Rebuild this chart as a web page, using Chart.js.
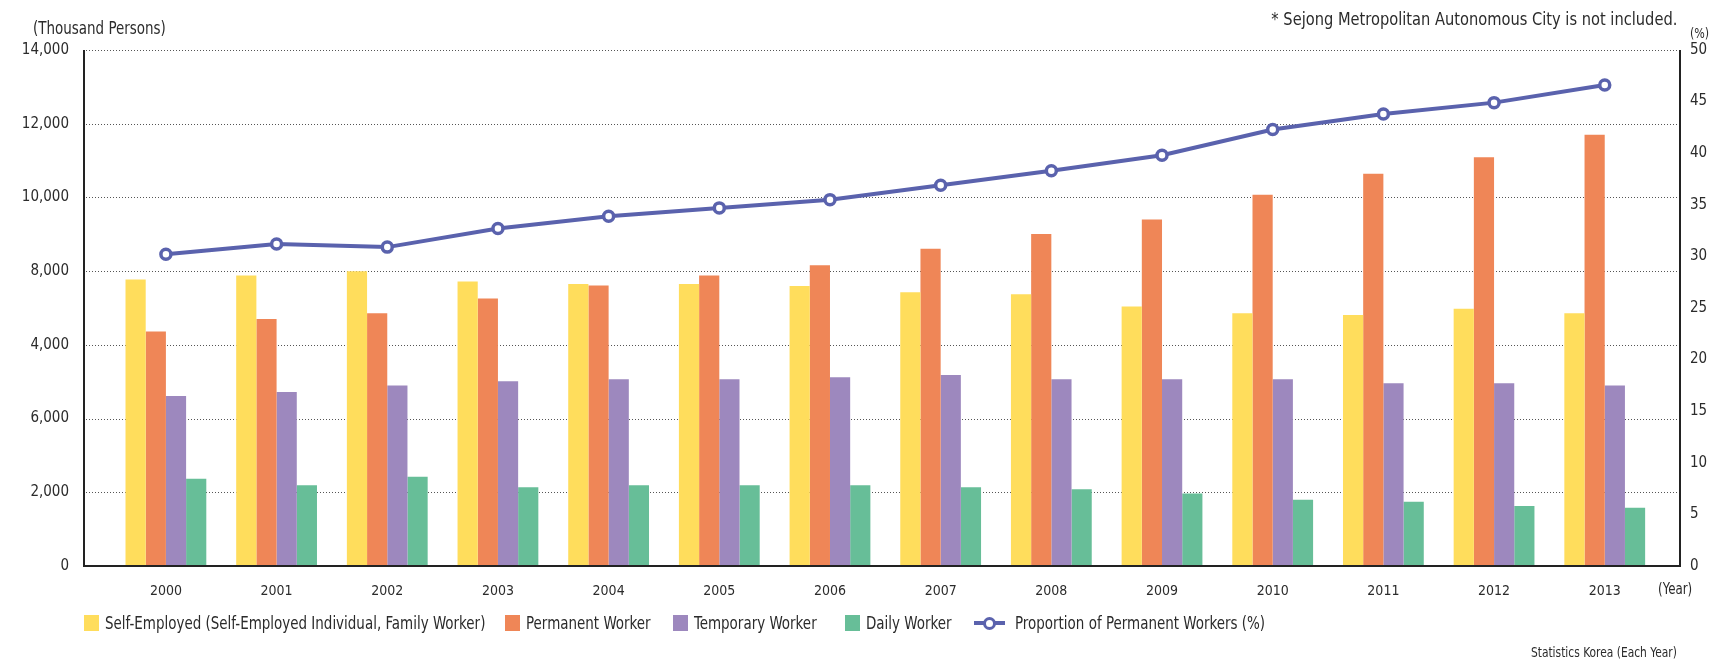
<!DOCTYPE html>
<html>
<head>
<meta charset="utf-8">
<script src="https://cdn.jsdelivr.net/npm/chart.js@4"></script>
<style>
  body { margin: 0; background: #fff; }
  .wrap {
    position: relative; width: 1711px; height: 662px; overflow: hidden;
    font-family: 'Liberation Sans Narrow', 'DejaVu Sans Condensed', 'Roboto', sans-serif;
    color: #2b2b2b;
  }
  #chart { position: absolute; left: 0; top: 0; }
  /* the labels use a narrow face, so squeeze the regular one */
  .txt { position: absolute; white-space: nowrap; line-height: 1; transform: scaleX(0.88); transform-origin: left center; }
  .txt.r { transform-origin: right center; }
  .unit-left { left: 33px; top: 20px; font-size: 17px; }
  .note { right: 34px; top: 10px; font-size: 18.5px; }
  .unit-right { left: 1690px; top: 26px; font-size: 14px; }
  .year { left: 1658px; top: 582px; font-size: 15px; }
  .source { right: 34px; top: 646px; font-size: 13.5px; }
  .legend-item { position: absolute; top: 613px; display: flex; align-items: center; font-size: 17px; white-space: nowrap; }
  .legend-item .box { width: 15px; height: 16px; margin-right: 6px; flex: none; }
  .legend-item .mark { position: relative; width: 31px; height: 16px; margin-right: 10px; flex: none; }
  .legend-item .label { display: inline-block; transform: scaleX(0.88); transform-origin: left center; }
  .mark::before { content: ''; position: absolute; left: 0; right: 0; top: 6px; height: 4px; background: #5a62ad; }
  .mark::after { content: ''; position: absolute; left: 9px; top: 2px; width: 7px; height: 7px; border: 3.5px solid #5a62ad; border-radius: 50%; background: #fff; }
</style>
</head>
<body>
<div class="wrap">
  <canvas id="chart" width="1711" height="662"></canvas>
  <div class="txt unit-left">(Thousand Persons)</div>
  <div class="txt r note">* Sejong Metropolitan Autonomous City is not included.</div>
  <div class="txt unit-right">(%)</div>
  <div class="txt year">(Year)</div>
  <div id="legend"></div>
  <div class="txt r source">Statistics Korea (Each Year)</div>
</div>
<script>
// Employment status by year (thousand persons) and share of permanent workers (%)
const years = ['2000', '2001', '2002', '2003', '2004', '2005', '2006', '2007', '2008', '2009', '2010', '2011', '2012', '2013'];
const selfEmployed = [7770, 7880, 8000, 7720, 7650, 7650, 7600, 7430, 7370, 7040, 6860, 6810, 6980, 6860];
const permanent = [6360, 6700, 6860, 7260, 7610, 7880, 8160, 8610, 9010, 9400, 10070, 10640, 11090, 11700];
const temporary = [4610, 4720, 4900, 5010, 5070, 5070, 5120, 5180, 5070, 5070, 5070, 4960, 4960, 4900];
const daily = [2370, 2190, 2420, 2140, 2190, 2190, 2190, 2140, 2080, 1970, 1800, 1740, 1630, 1580];
const permanentShare = [30.2, 31.2, 30.9, 32.7, 33.9, 34.7, 35.5, 36.9, 38.3, 39.8, 42.3, 43.8, 44.9, 46.6];

// left axis labels as printed
const leftTickLabels = ['0', '2,000', '6,000', '4,000', '8,000', '10,000', '12,000', '14,000'];

const seriesNames = ['Self-Employed (Self-Employed Individual, Family Worker)', 'Permanent Worker', 'Temporary Worker', 'Daily Worker', 'Proportion of Permanent Workers (%)'];
const colors = ['#ffdd5c', '#ef8657', '#9d88be', '#67be98', '#5a62ad'];

const FONT = "'Liberation Sans Narrow', 'DejaVu Sans Condensed', 'Roboto', sans-serif";
const toPoints = arr => arr.map((v, i) => ({ x: i, y: v }));

// dotted gridlines and solid axis frame
const frame = {
    id: 'frame',
    beforeDatasetsDraw(chart) {
        const { ctx, chartArea: a, scales: { y } } = chart;
        ctx.save();
        ctx.strokeStyle = '#555';
        ctx.lineWidth = 1;
        ctx.setLineDash([1, 2]);
        y.ticks.forEach(t => {
            if (t.value === 0) return;
            const py = Math.round(y.getPixelForValue(t.value)) + 0.5;
            ctx.beginPath();
            ctx.moveTo(a.left + 2, py);
            ctx.lineTo(a.right, py);
            ctx.stroke();
        });
        ctx.restore();
    },
    afterDatasetsDraw(chart) {
        const { ctx, chartArea: a } = chart;
        ctx.save();
        ctx.strokeStyle = '#222';
        ctx.lineWidth = 2;
        ctx.beginPath();
        ctx.moveTo(a.left, a.top);
        ctx.lineTo(a.left, a.bottom);
        ctx.lineTo(a.right, a.bottom);
        ctx.lineTo(a.right, a.top);
        ctx.stroke();
        ctx.restore();
    }
};

const barSets = [selfEmployed, permanent, temporary, daily].map((data, i) => ({
    type: 'bar',
    label: seriesNames[i],
    data: toPoints(data),
    backgroundColor: colors[i],
    borderWidth: 0,
    categoryPercentage: 0.73,
    barPercentage: 1.0,
    yAxisID: 'y',
    order: 2
}));

const lineSet = {
    type: 'line',
    label: seriesNames[4],
    data: toPoints(permanentShare),
    borderColor: colors[4],
    borderWidth: 4,
    pointRadius: 5,
    pointBorderWidth: 3.5,
    pointBackgroundColor: '#fff',
    pointBorderColor: colors[4],
    tension: 0,
    yAxisID: 'y1',
    order: 1
};

new Chart(document.getElementById('chart'), {
    data: { datasets: [...barSets, lineSet] },
    options: {
        responsive: false,
        animation: false,
        layout: { padding: { top: 50, left: 0, right: 0, bottom: 0 } },
        plugins: { legend: { display: false }, tooltip: { enabled: false } },
        scales: {
            x: {
                type: 'linear',
                offset: false,
                bounds: 'data',
                min: -0.74,
                max: 13.68,
                grid: { display: false, drawTicks: false, offset: false },
                border: { display: false },
                afterBuildTicks: s => { s.ticks = years.map((_, i) => ({ value: i })); },
                afterFit: s => { s.height = 96; },
                ticks: {
                    autoSkip: false,
                    maxRotation: 0,
                    padding: 17,
                    color: '#2b2b2b',
                    font: { family: FONT, size: 14 },
                    callback: v => years[v]
                }
            },
            y: {
                position: 'left',
                min: 0,
                max: 14000,
                grid: { display: false, drawTicks: false },
                border: { display: false },
                afterFit: s => { s.width = 84; },
                ticks: {
                    stepSize: 2000,
                    padding: 15,
                    color: '#2b2b2b',
                    font: { family: FONT, size: 15 },
                    callback: (v, i) => leftTickLabels[i]
                }
            },
            y1: {
                position: 'right',
                min: 0,
                max: 50,
                grid: { display: false, drawTicks: false },
                border: { display: false },
                afterFit: s => { s.width = 31; },
                ticks: {
                    stepSize: 5,
                    padding: 10,
                    color: '#2b2b2b',
                    font: { family: FONT, size: 15 }
                }
            }
        }
    },
    plugins: [frame]
});

// legend row under the axis
const legendX = [84, 505, 673, 845, 974];
const legend = document.getElementById('legend');
seriesNames.forEach((name, i) => {
    const item = document.createElement('div');
    item.className = 'legend-item';
    item.style.left = legendX[i] + 'px';
    const sw = document.createElement('span');
    if (i < 4) {
        sw.className = 'box';
        sw.style.background = colors[i];
    } else {
        sw.className = 'mark';
    }
    const label = document.createElement('span');
    label.className = 'label';
    label.textContent = name;
    item.appendChild(sw);
    item.appendChild(label);
    legend.appendChild(item);
});
</script>
</body>
</html>
